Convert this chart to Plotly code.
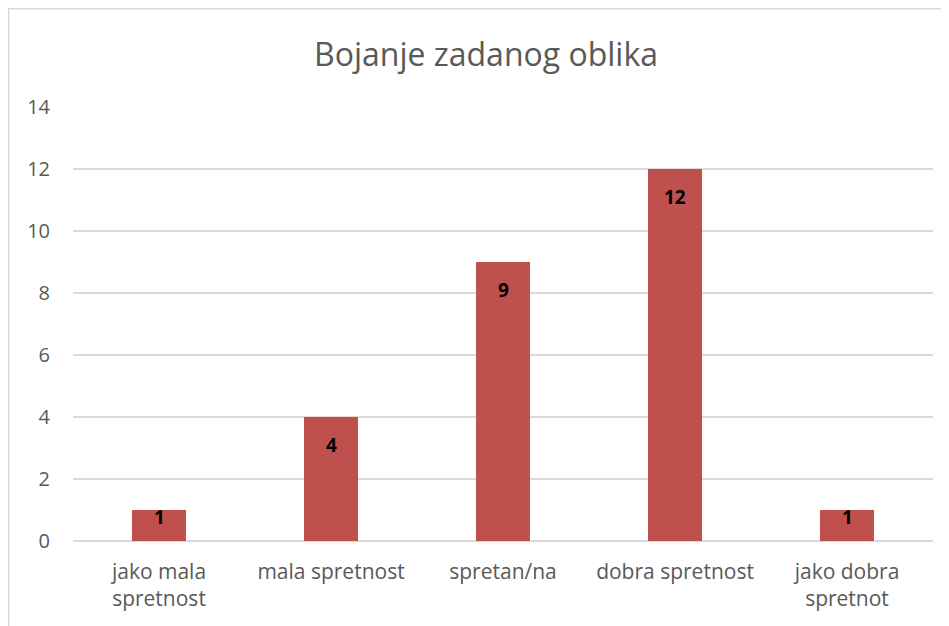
import plotly.graph_objects as go

categories = ["jako mala<br>spretnost", "mala spretnost", "spretan/na", "dobra spretnost", "jako dobra<br>spretnot"]
values = [1, 4, 9, 12, 1]
title_text = "Bojanje zadanog oblika"
y_ticks = [0, 2, 4, 6, 8, 10, 12, 14]

# page body has an 8px margin, so the figure fills the rest of the window
W, H = 941, 618
L, R, T, B = 65, 16, 99, 85
plot_w = W - L - R
plot_h = H - T - B
y_max = 14
px_per_unit = plot_h / y_max
FONT = "Open Sans, Liberation Sans, sans-serif"

fig = go.Figure()
fig.add_trace(go.Bar(
    x=categories, y=values,
    marker=dict(color="#C0504D", line=dict(width=0)),
    width=0.314,
    hoverinfo="x+y",
))

annotations = []
for c, v in zip(categories, values):
    shift = -min(28, v * px_per_unit - 24)
    annotations.append(dict(
        x=c, y=v, xref="x", yref="y", text="<b>%d</b>" % v, showarrow=False,
        yanchor="middle", yshift=shift,
        font=dict(family=FONT, size=19, color="#000000"),
    ))

fig.update_layout(
    width=W, height=H,
    margin=dict(l=L, r=R, t=T, b=B),
    paper_bgcolor="white", plot_bgcolor="white",
    showlegend=False,
    title=dict(text=title_text, x=478 / W, xanchor="center", y=1 - 47 / H, yanchor="middle",
               font=dict(family=FONT, size=32, color="#595959")),
    xaxis=dict(showgrid=False, showline=False, ticks="", zeroline=False,
               ticklabelstandoff=16,
               tickfont=dict(family=FONT, size=21, color="#595959")),
    yaxis=dict(range=[0, y_max], tickvals=y_ticks, showgrid=True, gridcolor="#D9D9D9", gridwidth=1.5,
               zeroline=True, zerolinecolor="#D9D9D9", zerolinewidth=1.5, showline=False, ticks="",
               ticklabelstandoff=22,
               tickfont=dict(family=FONT, size=20, color="#595959")),
    annotations=annotations,
    shapes=[dict(type="rect", xref="paper", yref="paper", x0=-L / plot_w + 0.0008, x1=2,
                 y0=-2, y1=1 + T / plot_h - 0.0015,
                 line=dict(color="#D9D9D9", width=1.5), fillcolor="rgba(0,0,0,0)", layer="below")],
)

fig.write_html("out.html")
